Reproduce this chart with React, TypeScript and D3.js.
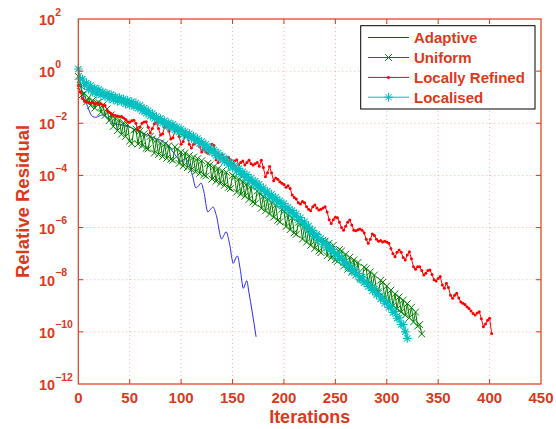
import React from 'react';
import * as d3 from 'd3';

// ---------- data ----------
const xTicks = [0, 50, 100, 150, 200, 250, 300, 350, 400, 450];
const yTickExps = [2, 0, -2, -4, -6, -8, -10, -12];

// Adaptive: smooth line, (iteration, log10 residual) knots
const adaptiveIter = [0, 2, 4, 6, 8, 10, 12, 14, 17, 20, 23, 26, 30, 34, 40, 46, 52, 58, 64, 70, 76, 83, 88, 93, 97, 100, 104, 108, 111, 114.5, 117, 119.4, 122, 126, 128.5, 131, 134, 139.5, 141.5, 143.7, 147, 150.8, 152.8, 154.7, 157.5, 160.5, 162, 163.8, 166, 169, 172.9];
const adaptiveLog = [0.15, -0.4, -0.85, -1.1, -1.25, -1.45, -1.65, -1.74, -1.77, -1.73, -1.68, -1.72, -1.85, -2.0, -2.05, -2.1, -2.18, -2.3, -2.4, -2.5, -2.6, -2.7, -2.9, -3.15, -3.35, -3.45, -3.36, -3.6, -4.0, -4.48, -4.4, -4.29, -4.6, -5.4, -5.3, -5.21, -5.5, -6.44, -6.3, -6.16, -6.6, -7.37, -7.2, -7.09, -7.6, -8.33, -8.2, -8.04, -8.5, -9.2, -10.19];

// The marker series: one value every ITER_STEP iterations, starting at 0 (log10 residual)
const ITER_STEP = 2;
const uniformLog = [
  -0.2, -0.55, -0.9, -0.85, -1.18, -1.02, -1.32, -1.12, -1.42, -1.22,
  -1.2, -1.58, -1.3, -1.7, -1.45, -1.9, -1.68, -2.12, -1.8, -2.28,
  -1.88, -2.42, -1.98, -2.5, -2.05, -2.68, -2.78, -2.26, -2.22, -2.8,
  -2.3, -2.86, -2.4, -2.96, -2.98, -2.5, -2.6, -3.14, -2.64, -3.2,
  -2.75, -3.28, -2.8, -3.34, -2.86, -3.38, -3.42, -2.9, -3.0, -3.54,
  -3.1, -3.64, -3.14, -3.7, -3.24, -3.78, -3.3, -3.86, -3.36, -3.92,
  -3.44, -3.98, -4.02, -3.54, -3.6, -4.14, -3.66, -4.22, -3.74, -4.3,
  -3.82, -4.38, -3.88, -4.46, -4.5, -4.0, -4.06, -4.64, -4.14, -4.72,
  -4.24, -4.8, -4.34, -4.92, -4.42, -5.02, -5.08, -4.6, -4.68, -5.26,
  -4.8, -5.36, -4.9, -5.48, -5.02, -5.6, -5.14, -5.72, -5.78, -5.3,
  -5.38, -5.96, -5.5, -6.08, -5.62, -6.2, -6.26, -5.8, -5.86, -6.44,
  -5.98, -6.56, -6.1, -6.68, -6.22, -6.8, -6.34, -6.9, -6.96, -6.48,
  -6.52, -7.08, -6.6, -7.16, -6.68, -7.24, -7.3, -6.84, -6.9, -7.48,
  -7.02, -7.6, -7.14, -7.72, -7.24, -7.82, -7.34, -7.92, -7.98, -7.52,
  -7.58, -8.16, -7.7, -8.28, -7.82, -8.4, -8.46, -8.02, -8.1, -8.7,
  -8.24, -8.84, -8.4, -9.0, -8.54, -9.12, -8.66, -9.24, -8.78, -9.36,
  -8.92, -9.46, -9.06, -9.62, -9.24, -9.78, -9.72, -10.08,
];
const refinedLog = [
  -0.55, -0.8, -1.05, -1.15, -1.18, -1.2, -1.22, -1.2, -1.25, -1.22,
  -1.28, -1.25, -1.3, -1.32, -1.5, -1.58, -1.62, -1.68, -1.7, -1.72,
  -1.75, -1.74, -1.8, -1.85, -1.94, -1.95, -1.9, -1.88, -2.0, -2.26,
  -2.15, -2.0, -1.95, -1.94, -2.15, -2.37, -2.2, -2.02, -1.98, -2.2,
  -2.45, -2.4, -2.15, -2.07, -2.3, -2.6, -2.55, -2.3, -2.26, -2.5,
  -2.8, -2.7, -2.45, -2.5, -2.8, -2.95, -2.8, -2.65, -2.6, -2.9,
  -3.1, -3.0, -3.1, -3.15, -3.0, -2.8, -2.85, -3.4, -3.5, -3.3,
  -3.2, -3.35, -3.5, -3.3, -3.4, -3.6, -3.45, -3.4, -3.6, -3.5,
  -3.45, -3.6, -3.5, -3.42, -3.55, -3.6, -3.55, -3.5, -3.65, -3.42,
  -3.7, -4.05, -3.9, -3.66, -3.9, -4.2, -4.1, -4.15, -4.24, -4.3,
  -4.35, -4.45, -4.4, -4.5, -4.75, -4.85, -4.9, -5.05, -5.1, -5.0,
  -5.05, -5.2, -5.3, -5.35, -5.2, -5.13, -5.25, -5.33, -5.3, -5.25,
  -5.2, -5.4, -5.7, -5.84, -5.7, -5.6, -5.62, -5.8, -6.0, -6.1,
  -5.95, -5.8, -5.71, -5.9, -6.1, -6.12, -6.08, -6.05, -6.1, -6.2,
  -6.45, -6.6, -6.45, -6.25, -6.3, -6.45, -6.52, -6.5, -6.55, -6.52,
  -6.55, -6.6, -6.8, -7.0, -7.12, -6.95, -6.86, -6.95, -7.15, -7.24,
  -7.05, -6.93, -7.2, -7.5, -7.6, -7.5, -7.5, -7.65, -7.82, -7.75,
  -7.65, -7.63, -7.8, -8.0, -8.05, -7.95, -7.88, -8.2, -8.33, -8.14,
  -8.3, -8.6, -8.71, -8.6, -8.52, -8.7, -8.85, -8.9, -8.95, -9.04,
  -9.1, -9.2, -9.3, -9.35, -9.28, -9.23, -9.5, -9.8, -9.7, -9.55,
  -9.48, -10.06,
];
const localisedLog = [
  0.08, -0.3, -0.3, -0.55, -0.45, -0.7, -0.55, -0.8, -0.65, -0.88,
  -0.7, -0.92, -0.8, -0.98, -0.86, -1.06, -0.9, -1.1, -0.98, -1.16,
  -1.02, -1.17, -1.06, -1.26, -1.12, -1.3, -1.17, -1.36, -1.22, -1.42,
  -1.32, -1.52, -1.42, -1.62, -1.52, -1.72, -1.62, -1.82, -1.74, -1.92,
  -1.82, -2.0, -1.9, -2.1, -1.98, -2.18, -2.04, -2.26, -2.14, -2.33,
  -2.22, -2.43, -2.32, -2.5, -2.4, -2.59, -2.49, -2.68, -2.58, -2.78,
  -2.7, -2.92, -2.8, -3.02, -2.92, -3.12, -3.02, -3.24, -3.14, -3.36,
  -3.27, -3.48, -3.38, -3.6, -3.5, -3.72, -3.62, -3.83, -3.74, -3.96,
  -3.86, -4.08, -3.97, -4.2, -4.1, -4.32, -4.22, -4.44, -4.34, -4.56,
  -4.47, -4.7, -4.6, -4.83, -4.72, -4.94, -4.84, -5.06, -4.97, -5.18,
  -5.08, -5.3, -5.22, -5.42, -5.34, -5.56, -5.47, -5.7, -5.62, -5.84,
  -5.78, -6.01, -5.94, -6.18, -6.1, -6.34, -6.26, -6.5, -6.42, -6.64,
  -6.56, -6.78, -6.7, -6.92, -6.84, -7.06, -6.98, -7.2, -7.14, -7.36,
  -7.3, -7.52, -7.46, -7.68, -7.6, -7.82, -7.76, -7.98, -7.9, -8.12,
  -8.06, -8.26, -8.21, -8.42, -8.36, -8.58, -8.52, -8.74, -8.68, -8.9,
  -8.84, -9.06, -9.02, -9.26, -9.22, -9.48, -9.46, -9.72, -9.72, -10.0,
  -10.25,
];

const seriesNames = ['Adaptive', 'Uniform', 'Locally Refined', 'Localised'];
const seriesColors = ['#2a2aff', '#008000', '#ff0000', '#00bfbf'];

// ---------- styles ----------
const AXIS = '#da3a1b';
const GRID = '#f2b3a6';
const FONT = '"Liberation Sans", Arial, Helvetica, sans-serif';

const W = 556;
const H = 429;
const PL = 78.3, PR = 541, PT = 19, PB = 384;

type P = [number, number];

const xMarker = 'M-3.4,-3.4L3.4,3.4M-3.4,3.4L3.4,-3.4';
const starMarker = 'M-4.4,0H4.4M0,-4.4V4.4M-3.1,-3.1L3.1,3.1M-3.1,3.1L3.1,-3.1';

export default function App() {
  const x = d3.scaleLinear().domain([0, 450]).range([PL, PR]);
  const y = d3.scaleLog().domain([1e-12, 1e2]).range([PB, PT]);

  const toPts = (arr: number[]): P[] => arr.map((v, i) => [i * ITER_STEP, Math.pow(10, v)]);
  const adaptivePts: P[] = adaptiveIter.map((it, i) => [it, Math.pow(10, adaptiveLog[i])]);
  const uniformPts = toPts(uniformLog);
  const refinedPts = toPts(refinedLog);
  const localisedPts = toPts(localisedLog);

  const line = d3.line<P>().x(d => x(d[0])).y(d => y(d[1]));
  const smooth = d3.line<P>().x(d => x(d[0])).y(d => y(d[1])).curve(d3.curveMonotoneX);

  const tickLen = 5;
  const legendRows = [37.5, 57.5, 77.4, 97.2];

  return (
    <svg width={W} height={H} style={{ position: 'absolute', left: 0, top: 0, background: '#fff' }}
      fontFamily={FONT} fontWeight="bold">
      <rect x={0} y={0} width={W} height={H} fill="#fff" />
      {/* grid */}
      {xTicks.filter(t => t > 0 && t < 450).map(t => (
        <line key={'gx' + t} x1={x(t)} x2={x(t)} y1={PT} y2={PB} stroke={GRID} strokeWidth={1} strokeDasharray="1,3" />
      ))}
      {yTickExps.filter(e => e > -12 && e < 2).map(e => (
        <line key={'gy' + e} x1={PL} x2={PR} y1={y(Math.pow(10, e))} y2={y(Math.pow(10, e))} stroke={GRID} strokeWidth={1} strokeDasharray="1,3" />
      ))}

      {/* series */}
      <path d={smooth(adaptivePts) || ''} fill="none" stroke={seriesColors[0]} strokeWidth={1} />
      <path d={line(uniformPts) || ''} fill="none" stroke={seriesColors[1]} strokeWidth={1} />
      <g stroke={seriesColors[1]} strokeWidth={1} fill="none">
        {uniformPts.map((d, i) => (
          <path key={i} d={xMarker} transform={`translate(${x(d[0])},${y(d[1])})`} />
        ))}
      </g>
      <path d={line(refinedPts) || ''} fill="none" stroke={seriesColors[2]} strokeWidth={1} />
      <g fill={seriesColors[2]}>
        {refinedPts.map((d, i) => (
          <circle key={i} cx={x(d[0])} cy={y(d[1])} r={1.5} />
        ))}
      </g>
      <path d={line(localisedPts) || ''} fill="none" stroke={seriesColors[3]} strokeWidth={1} />
      <g stroke={seriesColors[3]} strokeWidth={1.1} fill="none">
        {localisedPts.map((d, i) => (
          <path key={i} d={starMarker} transform={`translate(${x(d[0])},${y(d[1])})`} />
        ))}
      </g>

      {/* axes box */}
      <rect x={PL} y={PT} width={PR - PL} height={PB - PT} fill="none" stroke={AXIS} strokeWidth={1.2} />
      {/* ticks */}
      {xTicks.filter(t => t > 0 && t < 450).map(t => (
        <g key={'tx' + t} stroke={AXIS} strokeWidth={1}>
          <line x1={x(t)} x2={x(t)} y1={PB} y2={PB - tickLen} />
          <line x1={x(t)} x2={x(t)} y1={PT} y2={PT + tickLen} />
        </g>
      ))}
      {yTickExps.filter(e => e > -12 && e < 2).map(e => (
        <g key={'ty' + e} stroke={AXIS} strokeWidth={1}>
          <line x1={PL} x2={PL + tickLen} y1={y(Math.pow(10, e))} y2={y(Math.pow(10, e))} />
          <line x1={PR} x2={PR - tickLen} y1={y(Math.pow(10, e))} y2={y(Math.pow(10, e))} />
        </g>
      ))}

      {/* tick labels */}
      {xTicks.map(t => (
        <text key={'lx' + t} x={x(t)} y={403} fill={AXIS} fontSize={15} textAnchor="middle">{t}</text>
      ))}
      {yTickExps.map(e => (
        <text key={'ly' + e} x={39} y={y(Math.pow(10, e)) + 6} fill={AXIS} fontSize={14.5}>
          10<tspan dy={-9.5} fontSize={10.5}>{e < 0 ? '\u2212' + Math.abs(e) : String(e)}</tspan>
        </text>
      ))}

      {/* axis titles */}
      <text x={(PL + PR) / 2} y={422.5} fill={AXIS} fontSize={18} textAnchor="middle">Iterations</text>
      <text transform={`translate(28.5,${(PT + PB) / 2}) rotate(-90)`} fill={AXIS} fontSize={18.5} textAnchor="middle">Relative Residual</text>

      {/* legend */}
      <rect x={360.7} y={25.7} width={174.3} height={83.3} fill="#fff" stroke="#000" strokeWidth={1} />
      {seriesNames.map((name, i) => {
        const ly = legendRows[i];
        return (
          <g key={name}>
            <line x1={368} x2={409} y1={ly} y2={ly} stroke={seriesColors[i]} strokeWidth={1} />
            {i === 1 && <path d={xMarker} transform={`translate(388.5,${ly})`} stroke={seriesColors[i]} fill="none" />}
            {i === 2 && <circle cx={388.5} cy={ly} r={1.5} fill={seriesColors[i]} />}
            {i === 3 && <path d={starMarker} transform={`translate(388.5,${ly})`} stroke={seriesColors[i]} fill="none" />}
            <text x={414} y={ly + 5.5} fill={AXIS} fontSize={15}>{name}</text>
          </g>
        );
      })}
    </svg>
  );
}
